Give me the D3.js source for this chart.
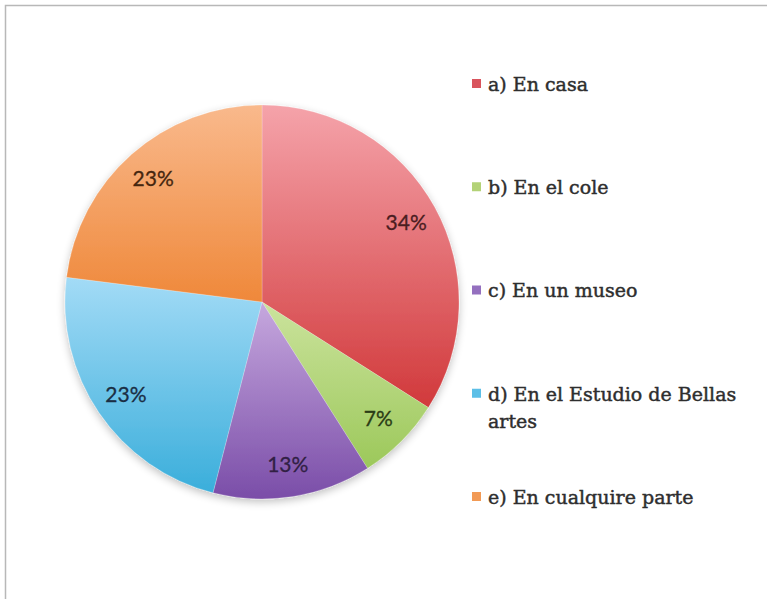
<!DOCTYPE html>
<html>
<head>
<meta charset="utf-8">
<script src="https://cdn.jsdelivr.net/npm/d3@7/dist/d3.min.js"></script>
<style>
  html, body { margin: 0; padding: 0; background: #ffffff; }
  svg { display: block; }
</style>
</head>
<body>
<svg id="chart" width="767" height="599"></svg>
<script>
// ---- data ----
const categories = ["a) En casa", "b) En el cole", "c) En un museo", "d) En el Estudio de Bellas artes", "e) En cualquire parte"];
const values = [34, 7, 13, 23, 23];
const valueLabels = ["34%", "7%", "13%", "23%", "23%"];
const legendLines = [["a) En casa"], ["b) En el cole"], ["c) En un museo"], ["d) En el Estudio de Bellas", "artes"], ["e) En cualquire parte"]];

// ---- styles ----
const lightColors = ["#f5a3aa", "#cbe39d", "#c6a8de", "#a3dbf6", "#f9b98c"];
const darkColors  = ["#d1393b", "#9cc85a", "#7a4da8", "#3aaedb", "#ef883a"];
const swatchColors = ["#d9545d", "#b3d277", "#9470bf", "#5cbfe7", "#f29a55"];
const labelColors = ["#4a1d21", "#2b3c15", "#312044", "#1a2e44", "#45260f"];

const svg = d3.select("#chart");
const W = 767, H = 599;

// frame
svg.append("rect").attr("x", 5.5).attr("y", 5.5).attr("width", W + 10).attr("height", H + 10)
  .attr("fill", "#ffffff").attr("stroke", "#b8b8b8").attr("stroke-width", 1.5);

const defs = svg.append("defs");
lightColors.forEach((c, i) => {
  const g = defs.append("linearGradient").attr("id", "g" + i)
    .attr("x1", 0).attr("y1", 0).attr("x2", 0).attr("y2", 1);
  g.append("stop").attr("offset", "0%").attr("stop-color", c);
  g.append("stop").attr("offset", "100%").attr("stop-color", darkColors[i]);
});
const f = defs.append("filter").attr("id", "shadow").attr("x", "-10%").attr("y", "-10%").attr("width", "120%").attr("height", "125%");
f.append("feGaussianBlur").attr("in", "SourceAlpha").attr("stdDeviation", 4).attr("result", "b");
f.append("feOffset").attr("in", "b").attr("dy", 3).attr("result", "o");
f.append("feComponentTransfer").attr("in", "o").attr("result", "t")
  .append("feFuncA").attr("type", "linear").attr("slope", 0.25);
const fm = f.append("feMerge");
fm.append("feMergeNode").attr("in", "t");
fm.append("feMergeNode").attr("in", "SourceGraphic");

const cx = 262, cy = 302, R = 197;
const pie = d3.pie().sort(null).value(d => d)(values);
const arc = d3.arc().innerRadius(0).outerRadius(R);
const labelArc = d3.arc().innerRadius(R * 0.835).outerRadius(R * 0.835);

const gPie = svg.append("g").attr("transform", `translate(${cx},${cy})`);
const shadowG = gPie.append("g").attr("filter", "url(#shadow)");
shadowG.selectAll("path").data(pie).enter().append("path")
  .attr("d", arc)
  .attr("fill", (d, i) => `url(#g${i})`)
  .attr("stroke", "rgba(255,255,255,0.35)")
  .attr("stroke-width", 0.6);

gPie.selectAll("text").data(pie).enter().append("text")
  .attr("transform", d => `translate(${labelArc.centroid(d)})`)
  .attr("text-anchor", "middle")
  .attr("dy", "0.35em")
  .attr("font-family", "Lato, 'Open Sans', sans-serif")
  .attr("font-size", 21)
  .attr("fill", (d, i) => labelColors[i])
  .attr("stroke", (d, i) => labelColors[i])
  .attr("stroke-width", 0.3)
  .text((d, i) => valueLabels[i]);

// legend
const legendY = d3.scalePoint().domain(d3.range(categories.length)).range([84, 497]);
const lg = svg.append("g");
const item = lg.selectAll("g").data(legendLines).enter().append("g")
  .attr("transform", (d, i) => `translate(472,${legendY(i)})`);
item.append("rect").attr("x", 0).attr("y", -5).attr("width", 9).attr("height", 9)
  .attr("fill", (d, i) => swatchColors[i]);
item.each(function(lines) {
  const t = d3.select(this).append("text")
    .attr("x", 16).attr("y", 0)
    .attr("font-family", "'DejaVu Serif', serif")
    .attr("font-size", 19)
    .attr("fill", "#2e2e2e")
    .attr("stroke", "#2e2e2e")
    .attr("stroke-width", 0.45);
  lines.forEach((ln, j) => {
    t.append("tspan").attr("x", 16).attr("dy", j === 0 ? "0.36em" : "1.45em").text(ln);
  });
});
</script>
</body>
</html>
